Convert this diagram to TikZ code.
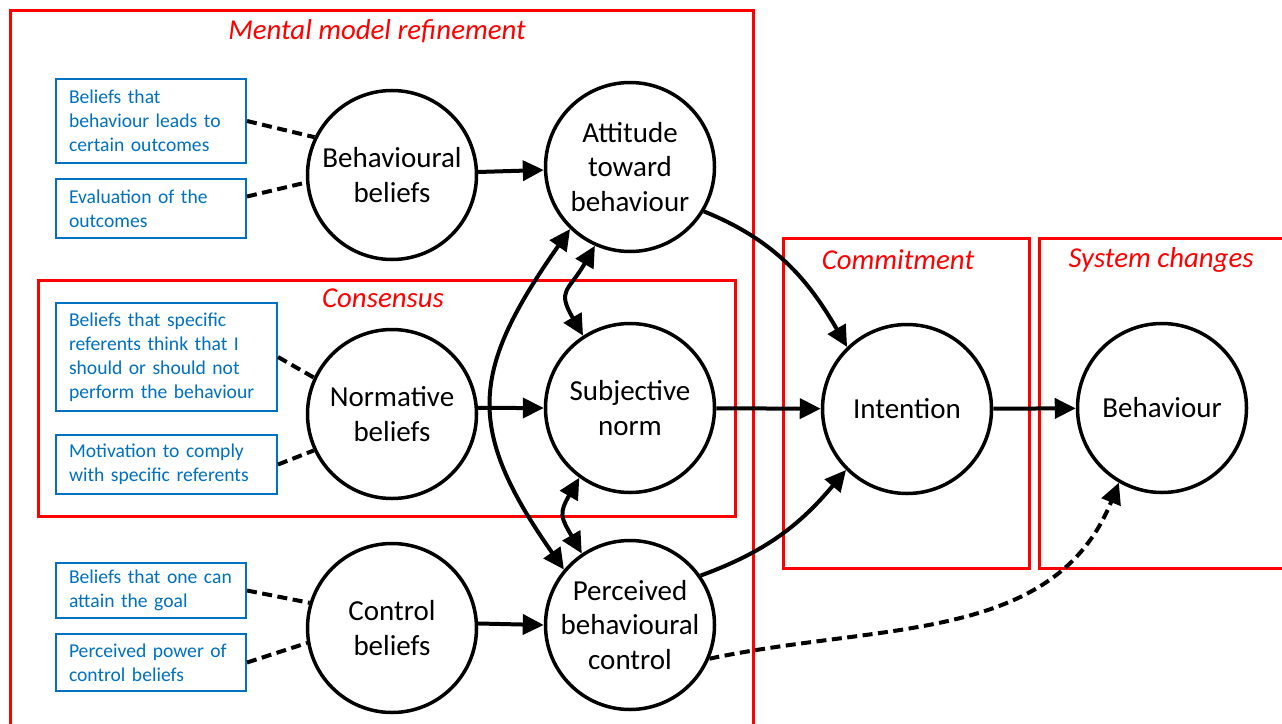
\documentclass[tikz,border=0pt]{standalone}
\usepackage{fontspec}
\setmainfont{Carlito}
\usetikzlibrary{arrows.meta}
\definecolor{framered}{RGB}{255,0,0}
\definecolor{noteblue}{RGB}{0,112,192}
\tikzset{
  bubble/.style={circle, draw=black, line width=3.5pt, fill=white,
    minimum size=169pt, inner sep=0pt, align=center,
    font=\fontsize{29}{34.5}\selectfont},
  note/.style={draw=noteblue, line width=2pt, text=noteblue, fill=white,
    anchor=north west, align=left, inner xsep=13pt, inner ysep=0pt,
    font=\fontsize{19.6}{24}\selectfont},
  groupbox/.style={draw=framered, line width=3pt},
  grouptitle/.style={text=framered, inner sep=0pt,
    font=\fontsize{28.8}{34}\selectfont\itshape},
  tip/.tip={Triangle[length=21pt,width=20pt]},
  link/.style={-tip, line width=4pt},
  twoway/.style={tip-tip, line width=4pt},
  tie/.style={line width=4pt, dash pattern=on 10pt off 5.5pt},
}
\begin{document}
\begin{tikzpicture}[x=1pt,y=1pt]
  \useasboundingbox (0,0) rectangle (1282,-723);
  \clip (0,0) rectangle (1282,-723);

  % group frames
  \draw[groupbox] (10,-10) rectangle (753,-740);
  \draw[groupbox] (38,-280) rectangle (735,-516);
  \draw[groupbox] (783,-238) rectangle (1029,-568);
  \draw[groupbox] (1039,-238) rectangle (1300,-568);
  \node[grouptitle] (tmm) at (377,-31) {Mental model refinement};
  \node[grouptitle] (tcs) at (383,-298) {Consensus};
  \node[grouptitle] (tcm) at (898,-260) {Commitment};
  \node[grouptitle] (tsc) at (1161,-260) {System changes};

  % belief components
  \node[note, text width=164pt, minimum height=84pt] (b1) at (55,-78)
    {Beliefs that\\behaviour leads to\\certain outcomes};
  \node[note, text width=164pt, minimum height=59pt] (b2) at (55,-178)
    {Evaluation of the\\outcomes};
  \node[note, text width=195pt, minimum height=108pt] (b3) at (55,-302)
    {Beliefs that specific\\referents think that I\\should or should not\\perform the behaviour};
  \node[note, text width=195pt, minimum height=59pt] (b4) at (55,-434)
    {Motivation to comply\\with specific referents};
  \node[note, text width=164pt, minimum height=55pt] (b5) at (55,-562)
    {Beliefs that one can\\attain the goal};
  \node[note, text width=164pt, minimum height=57pt] (b6) at (55,-633)
    {Perceived power of\\control beliefs};

  % constructs
  \node[bubble] (bb)  at (392,-175) {Behavioural\\beliefs};
  \node[bubble] (att) at (630,-167) {Attitude\\toward\\behaviour};
  \node[bubble] (nb)  at (392,-414) {Normative\\beliefs};
  \node[bubble] (sn)  at (630,-408) {Subjective\\norm};
  \node[bubble] (cb)  at (392,-628) {Control\\beliefs};
  \node[bubble] (pbc) at (630,-625) {Perceived\\behavioural\\control};
  \node[bubble] (int) at (907,-409) {Intention};
  \node[bubble] (beh) at (1162,-408) {Behaviour};

  % components to beliefs
  \draw[tie] (b1.east) -- (bb.154);
  \draw[tie] ([yshift=12pt]b2.east) -- (bb.185);
  \draw[tie] (b3.east) -- (nb.155);
  \draw[tie] (b4.east) -- (nb.205);
  \draw[tie] (b5.east) -- (cb.163);
  \draw[tie] (b6.east) -- (cb.190);

  % beliefs to constructs
  \draw[link] (bb.2) -- (att.182);
  \draw[link] (nb.4) -- (sn.180);
  \draw[link] (cb.3) -- (pbc.180);

  % correlations between constructs
  \draw[twoway] (att.246) to[out=240,in=120,looseness=1.5] (sn.123);
  \draw[twoway] (sn.234) to[out=240,in=120,looseness=1.4] (pbc.124);
  \draw[twoway] (att.226) to[out=235,in=125,looseness=1.3] (pbc.140);

  % constructs to intention and behaviour
  \draw[link] (att.-31) to[out=-22,in=120] (int.134);
  \draw[link] (sn) -- (int);
  \draw[link] (pbc.35) to[out=20,in=230] (int.225);
  \draw[link] (int) -- (beh);
  \draw[link, tie] (pbc.-23) to[out=12,in=248] (beh.240);
\end{tikzpicture}
\end{document}
